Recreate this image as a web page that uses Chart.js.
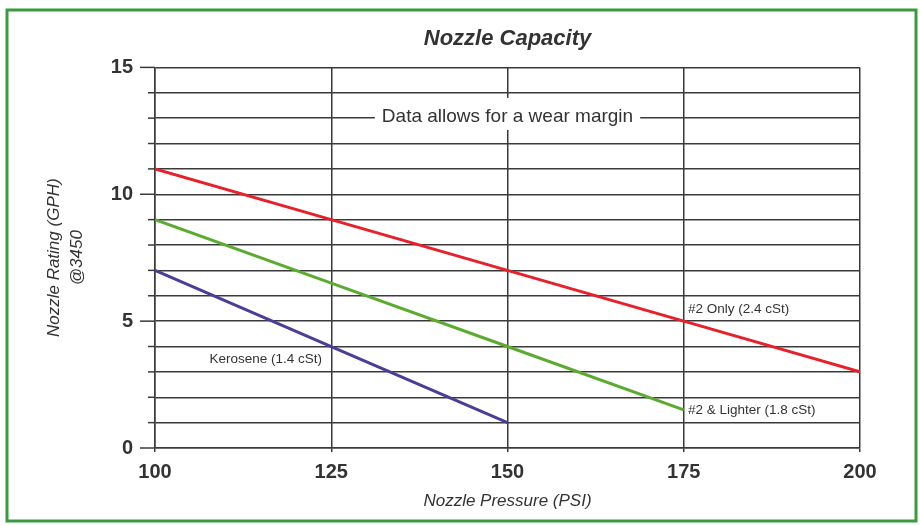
<!DOCTYPE html>
<html>
<head>
<meta charset="utf-8">
<script src="https://cdn.jsdelivr.net/npm/chart.js@4.4.0/dist/chart.umd.min.js"></script>
<style>
  body { margin: 0; background: #fff; }
  canvas { display: block; }
</style>
</head>
<body>
<canvas id="myChart" width="920" height="525"></canvas>
<script>
// values
const pressure = [100, 125, 150, 175, 200];
const only2Rating = [11, 9, 7, 5, 3];
const lighterRating = [9, 6.5, 4, 1.5];
const keroseneRating = [7, 4, 1];
const seriesNames = ['#2 Only (2.4 cSt)', '#2 & Lighter (1.8 cSt)', 'Kerosene (1.4 cSt)'];
const yLabelTicks = [0, 5, 10, 15];
const xTicks = [100, 125, 150, 175, 200];

const gridColor = '#3a3a3a';
const textColor = '#333';

const toPoints = (ys) => ys.map((y, i) => ({x: pressure[i], y: y}));

// frame + manual y ticks + text notes
const extras = {
  id: 'extras',
  beforeDraw(chart) {
    const c = chart.ctx;
    c.save();
    c.fillStyle = '#fff';
    c.fillRect(0, 0, chart.width, chart.height);
    c.strokeStyle = '#3b9a3f';
    c.lineWidth = 3;
    c.strokeRect(7, 10, 909, 511);
    c.restore();
  },
  afterDatasetsDraw(chart) {
    const c = chart.ctx;
    const x = chart.scales.x, y = chart.scales.y;
    const left = chart.chartArea.left;
    c.save();
    c.strokeStyle = gridColor;
    c.lineWidth = 1.5;
    for (let v = 0; v <= 15; v++) {
      const py = y.getPixelForValue(v);
      const len = yLabelTicks.includes(v) ? 15 : 7;
      c.beginPath();
      c.moveTo(left - len, py);
      c.lineTo(left, py);
      c.stroke();
    }

    const note = (text, vx, vy, align, size, pad) => {
      c.font = size + 'px "Liberation Sans", Arial, sans-serif';
      const w = c.measureText(text).width;
      const px = x.getPixelForValue(vx), py = y.getPixelForValue(vy);
      let x0 = align === 'center' ? px - w / 2 : align === 'right' ? px - w : px;
      if (pad) {
        c.fillStyle = '#fff';
        c.fillRect(x0 - pad, py - 19, w + pad * 2, 32);
      }
      c.fillStyle = textColor;
      c.textAlign = 'left';
      c.textBaseline = 'middle';
      c.fillText(text, x0, py);
    };
    note('Data allows for a wear margin', 150, 13.05, 'center', 19, 7);
    note(seriesNames[2], 123.7, 3.5, 'right', 13.5, 0);
    note(seriesNames[0], 175.6, 5.45, 'left', 13.5, 0);
    note(seriesNames[1], 175.6, 1.5, 'left', 13.5, 0);
    c.restore();
  }
};

const ctx = document.getElementById('myChart').getContext('2d');
const myChart = new Chart(ctx, {
  type: 'line',
  data: {
    datasets: [
      { label: seriesNames[0], data: toPoints(only2Rating), borderColor: '#e8202a', borderWidth: 3 },
      { label: seriesNames[1], data: toPoints(lighterRating), borderColor: '#5aab2e', borderWidth: 3 },
      { label: seriesNames[2], data: toPoints(keroseneRating), borderColor: '#4a3f97', borderWidth: 3 }
    ]
  },
  options: {
    responsive: false,
    animation: false,
    layout: { padding: { left: 43, right: 60, top: 0, bottom: 0 } },
    elements: { point: { radius: 0 }, line: { tension: 0, fill: false } },
    plugins: {
      legend: { display: false },
      tooltip: { enabled: false },
      title: {
        display: true,
        fullSize: false,
        text: 'Nozzle Capacity',
        color: textColor,
        font: { family: '"Liberation Sans", Arial, sans-serif', size: 22, style: 'italic', weight: 'bold', lineHeight: 1.2 },
        padding: { top: 26, bottom: 15 }
      }
    },
    scales: {
      x: {
        type: 'linear',
        min: 100, max: 200,
        afterBuildTicks: (s) => { s.ticks = xTicks.map(v => ({value: v})); },
        afterFit: (s) => { s.height = 77; },
        grid: { color: gridColor, lineWidth: 1.5, drawTicks: true, tickLength: 4 },
        border: { color: gridColor, width: 1.5 },
        ticks: {
          color: textColor, padding: 8,
          font: { family: '"Liberation Sans", Arial, sans-serif', size: 20, weight: 'bold' }
        },
        title: {
          display: true,
          text: 'Nozzle Pressure (PSI)',
          color: textColor,
          padding: { top: 0, bottom: 14 },
          font: { family: '"Liberation Sans", Arial, sans-serif', size: 17, style: 'italic' }
        }
      },
      y: {
        min: 0, max: 15,
        ticks: {
          stepSize: 1,
          autoSkip: false,
          color: textColor,
          padding: 22,
          font: { family: '"Liberation Sans", Arial, sans-serif', size: 20, weight: 'bold' },
          callback: (v) => yLabelTicks.includes(v) ? String(v) : ''
        },
        afterFit: (s) => { s.width = 112; },
        grid: { color: gridColor, lineWidth: 1.5, drawTicks: false },
        border: { color: gridColor, width: 1.5 },
        title: {
          display: true,
          text: ['Nozzle Rating (GPH)', '@3450'],
          color: textColor,
          padding: { top: 0, bottom: 0 },
          font: { family: '"Liberation Sans", Arial, sans-serif', size: 17, style: 'italic', lineHeight: 1.35 }
        }
      }
    }
  },
  plugins: [extras]
});
</script>
</body>
</html>
